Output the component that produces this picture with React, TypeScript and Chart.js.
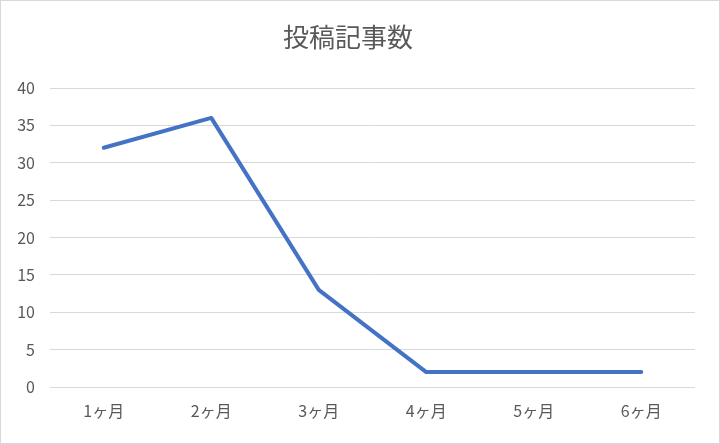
import React, { useEffect, useRef } from "react";
import { Chart, registerables } from "chart.js";

Chart.register(...registerables);

const title = "投稿記事数";
const categories = ["1ヶ月", "2ヶ月", "3ヶ月", "4ヶ月", "5ヶ月", "6ヶ月"];
const values = [32, 36, 13, 2, 2, 2];
const yTicks = [0, 5, 10, 15, 20, 25, 30, 35, 40];

const FONT = "'Noto Sans CJK JP', 'Noto Sans', sans-serif";

export default function App() {
  const ref = useRef<HTMLCanvasElement | null>(null);
  useEffect(() => {
    if (!ref.current) return;
    const chart = new Chart(ref.current, {
      type: "line",
      data: {
        labels: categories,
        datasets: [
          {
            data: values,
            borderColor: "#4472C4",
            borderWidth: 4,
            pointRadius: 0,
            tension: 0,
            borderCapStyle: "round",
            borderJoinStyle: "round",
          },
        ],
      },
      options: {
        animation: false,
        responsive: false,
        maintainAspectRatio: false,
        layout: { padding: { left: 0, right: 24, top: 0, bottom: 22 } },
        plugins: {
          legend: { display: false },
          tooltip: { enabled: false },
          title: {
            display: true,
            text: title,
            color: "#595959",
            font: { family: FONT, size: 26, weight: "normal", lineHeight: 1.2 },
            padding: { top: 21, bottom: 34.8 },
          },
        },
        scales: {
          x: {
            offset: true,
            grid: { display: false, drawTicks: false },
            border: { display: false },
            afterFit: (s: any) => {
              s.height = 34;
            },
            ticks: {
              color: "#595959",
              font: { family: FONT, size: 16 },
              padding: 14,
              maxRotation: 0,
            },
          },
          y: {
            min: 0,
            max: 40,
            afterBuildTicks: (s: any) => {
              s.ticks = yTicks.map((v) => ({ value: v }));
            },
            afterFit: (s: any) => {
              s.width = 49;
            },
            grid: { color: "#d9d9d9", lineWidth: 1, drawTicks: false },
            border: { display: false },
            ticks: {
              color: "#595959",
              font: { family: FONT, size: 16 },
              padding: 15,
            },
          },
        },
      },
    });
    return () => chart.destroy();
  }, []);
  return (
    <div
      style={{
        position: "absolute",
        left: 0,
        top: 0,
        width: 720,
        height: 444,
        boxSizing: "border-box",
        border: "1px solid #d9d9d9",
        background: "#fff",
      }}
    >
      <canvas ref={ref} width={718} height={442} style={{ display: "block" }} />
    </div>
  );
}
